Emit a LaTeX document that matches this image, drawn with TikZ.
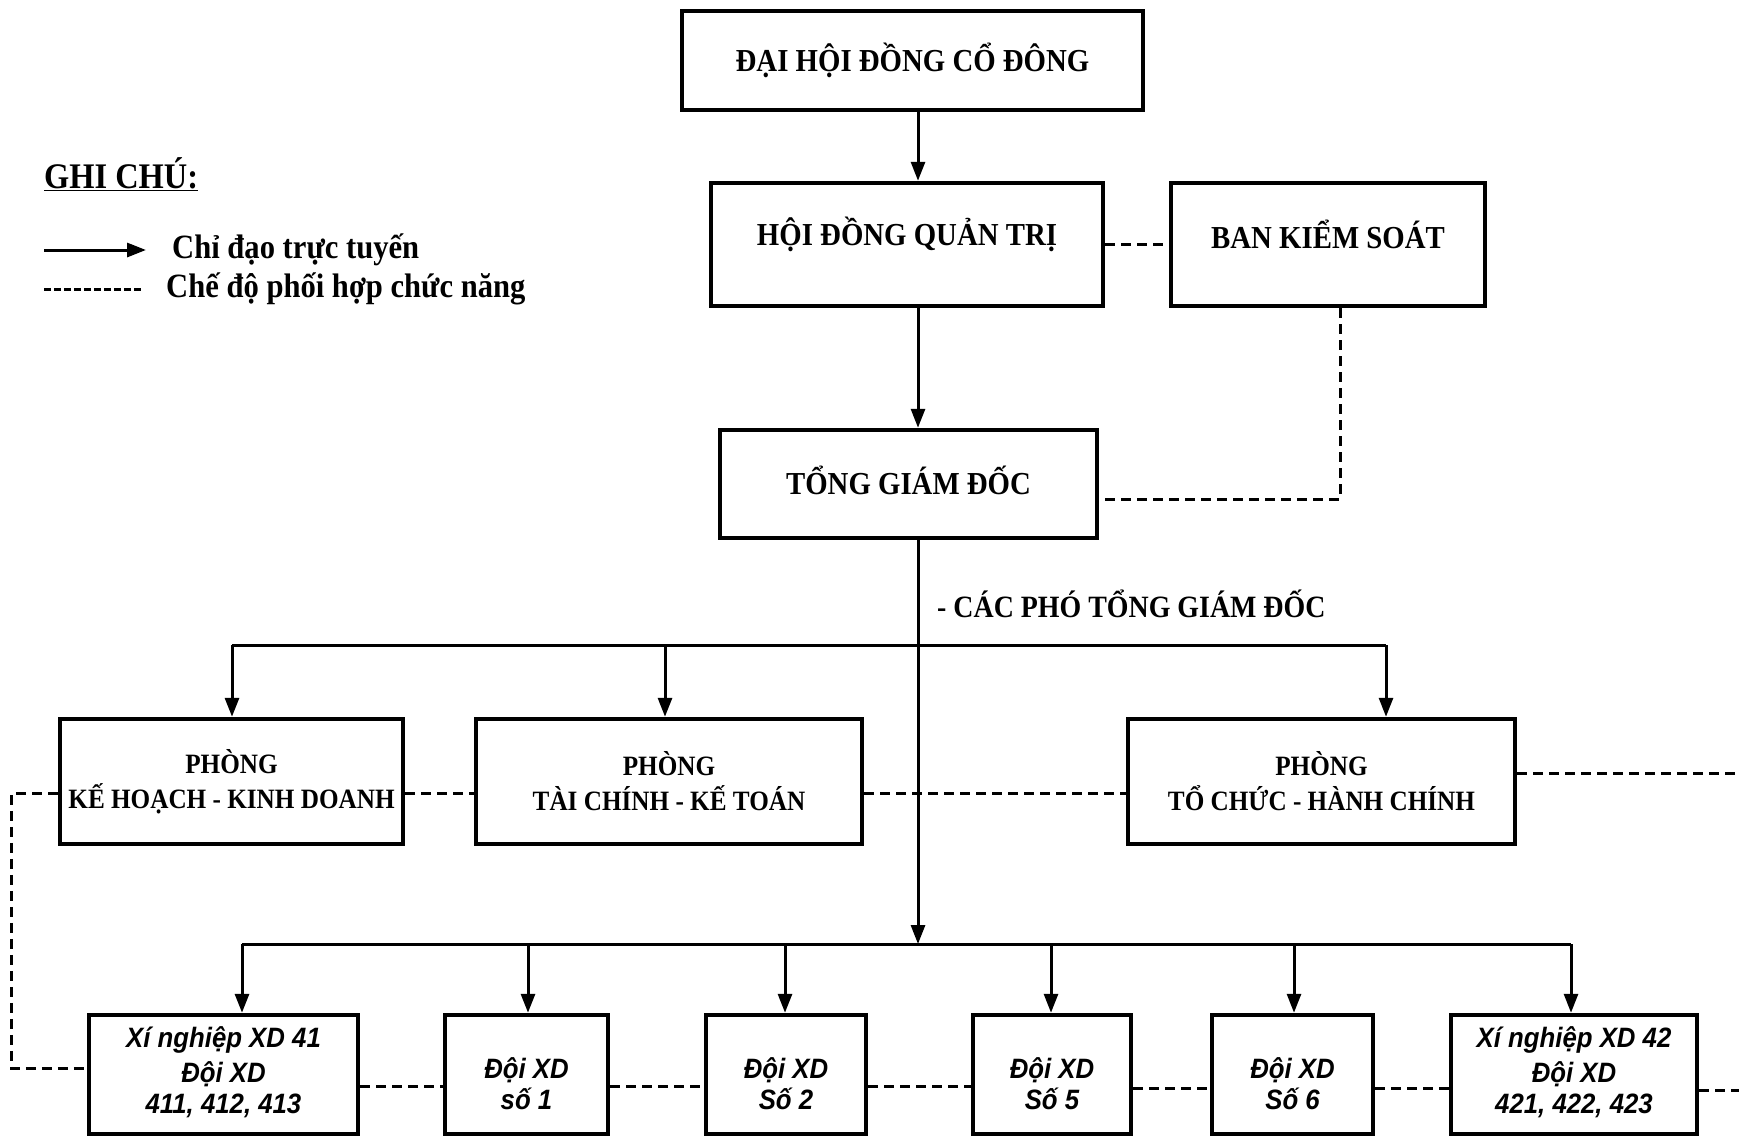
\documentclass[tikz,border=0pt]{standalone}
\usepackage{fontspec}
\setmainfont{Liberation Serif}[FakeStretch=0.9]
\newfontfamily\arialf{Liberation Sans}[FakeStretch=0.92]
\usetikzlibrary{arrows.meta}
\begin{document}
\begin{tikzpicture}[x=1pt,y=-1pt,
  box/.style={draw, line width=4.5pt, rectangle, inner sep=0pt, align=center},
  topfont/.style={font=\bfseries\fontsize{32}{38}\selectfont},
  midfont/.style={font=\bfseries\fontsize{28}{35}\selectfont},
  botfont/.style={font=\arialf\bfseries\itshape\fontsize{28}{31}\selectfont},
  solidarrow/.style={line width=3pt, -{Triangle[length=19pt,width=14pt]}},
  solidline/.style={line width=3pt},
  dashline/.style={line width=3pt, dash pattern=on 10pt off 6pt}]
\useasboundingbox (0,0) rectangle (1739,1138);
\fill[white] (0,0) rectangle (1739,1138);

% legend
\node[anchor=west, font=\bfseries\fontsize{36}{40}\selectfont, inner sep=0pt] (gc) at (44,174) {\underline{GHI CHÚ:}};
\coordinate (la1) at (44,250);
\coordinate (la2) at (146,250);
\draw[solidarrow] (la1) -- (la2);
\node[anchor=west, font=\bfseries\fontsize{34}{40}\selectfont, inner sep=0pt] (lt1) at (172,250) {Chỉ đạo trực tuyến};
\coordinate (ld1) at (44,289);
\coordinate (ld2) at (142,289);
\draw[dashline, dash pattern=on 7pt off 3pt] (ld1) -- (ld2);
\node[anchor=west, font=\bfseries\fontsize{34}{40}\selectfont, inner sep=0pt] (lt2) at (166,289) {Chế độ phối hợp chức năng};

% top boxes
\node[box, topfont, minimum width=461, minimum height=99] (dh) at (912.5,60.5) {ĐẠI HỘI ĐỒNG CỔ ĐÔNG};
\node[box, topfont, minimum width=392, minimum height=123] (hd) at (907,244.5) {\raisebox{10pt}[\height][\depth]{HỘI ĐỒNG QUẢN TRỊ}};
\node[box, topfont, minimum width=314, minimum height=123] (bks) at (1328,244.5) {\raisebox{10pt}[\height][\depth]{BAN KIỂM SOÁT}};
\node[box, topfont, minimum width=377, minimum height=108] (tgd) at (908.5,484) {\raisebox{4pt}[\height][\depth]{TỔNG GIÁM ĐỐC}};

\node[anchor=west, font=\bfseries\fontsize{31}{36}\selectfont, inner sep=0pt] (pho) at (937,604) {- CÁC PHÓ TỔNG GIÁM ĐỐC};

% department boxes
\node[box, midfont, minimum width=343, minimum height=125] (kh) at (231.5,781.5) {PHÒNG\\KẾ HOẠCH - KINH DOANH};
\node[box, midfont, minimum width=386, minimum height=125] (tk) at (669,781.5) {PHÒNG\\TÀI CHÍNH - KẾ TOÁN};
\node[box, midfont, minimum width=387, minimum height=125] (hc) at (1321.5,781.5) {PHÒNG\\TỔ CHỨC - HÀNH CHÍNH};

% bottom boxes
\node[box, botfont, minimum width=269, minimum height=119] (b1) at (223.5,1074.5) {\raisebox{4pt}[\height][\depth]{Xí nghiệp XD 41}\\Đội XD\\411, 412, 413};
\node[box, botfont, minimum width=163, minimum height=119] (b2) at (526.5,1074.5) {\raisebox{-9pt}[\height][\depth]{Đội XD}\\\raisebox{-9pt}[\height][\depth]{số 1}};
\node[box, botfont, minimum width=160, minimum height=119] (b3) at (786,1074.5) {\raisebox{-9pt}[\height][\depth]{Đội XD}\\\raisebox{-9pt}[\height][\depth]{Số 2}};
\node[box, botfont, minimum width=158, minimum height=119] (b4) at (1052,1074.5) {\raisebox{-9pt}[\height][\depth]{Đội XD}\\\raisebox{-9pt}[\height][\depth]{Số 5}};
\node[box, botfont, minimum width=161, minimum height=119] (b5) at (1292.5,1074.5) {\raisebox{-9pt}[\height][\depth]{Đội XD}\\\raisebox{-9pt}[\height][\depth]{Số 6}};
\node[box, botfont, minimum width=246, minimum height=119] (b6) at (1574,1074.5) {\raisebox{4pt}[\height][\depth]{Xí nghiệp XD 42}\\Đội XD\\421, 422, 423};

% trunk coordinates
\coordinate (tx) at (918,0);
\coordinate (h1) at (232,645);
\coordinate (h2) at (665,645);
\coordinate (h3) at (1386,645);
\coordinate (g0) at (918,944);
\coordinate (g1) at (242,944);
\coordinate (g2) at (528,944);
\coordinate (g3) at (785,944);
\coordinate (g4) at (1051,944);
\coordinate (g5) at (1294,944);
\coordinate (g6) at (1571,944);

% solid connectors
\draw[solidarrow] (dh.south -| tx) -- (hd.north -| tx);
\draw[solidarrow] (hd.south -| tx) -- (tgd.north -| tx);
\draw[solidarrow] (tgd.south -| tx) -- (g0);
\draw[solidline] (h1) -- (h3);
\draw[solidarrow] (h1) -- (h1 |- kh.north);
\draw[solidarrow] (h2) -- (h2 |- tk.north);
\draw[solidarrow] (h3) -- (h3 |- hc.north);
\draw[solidline] (g1) -- (g6);
\draw[solidarrow] (g1) -- (g1 |- b1.north);
\draw[solidarrow] (g2) -- (g2 |- b2.north);
\draw[solidarrow] (g3) -- (g3 |- b3.north);
\draw[solidarrow] (g4) -- (g4 |- b4.north);
\draw[solidarrow] (g5) -- (g5 |- b5.north);
\draw[solidarrow] (g6) -- (g6 |- b6.north);

% dashed connectors
\coordinate (bx) at (1340,0);
\coordinate (ty) at (0,499);
\draw[dashline] (hd.east) -- (bks.west);
\draw[dashline] (bks.south -| bx) -- (bx |- ty) -- (tgd.east |- ty);
\draw[dashline] ([yshift=-12pt]kh.east) -- ([yshift=-12pt]tk.west);
\draw[dashline] ([yshift=-12pt]tk.east) -- ([yshift=-12pt]hc.west);
\coordinate (r1) at (1739,773);
\draw[dashline] (hc.east |- r1) -- (r1);
\coordinate (lf) at (11,1068);
\draw[dashline] ([yshift=-12pt]kh.west) -| (lf) -- (b1.west |- lf);
\draw[dashline] ([yshift=-12pt]b1.east) -- ([yshift=-12pt]b2.west);
\draw[dashline] ([yshift=-12pt]b2.east) -- ([yshift=-12pt]b3.west);
\draw[dashline] ([yshift=-12pt]b3.east) -- ([yshift=-12pt]b4.west);
\draw[dashline] ([yshift=-14pt]b4.east) -- ([yshift=-14pt]b5.west);
\draw[dashline] ([yshift=-14pt]b5.east) -- ([yshift=-14pt]b6.west);
\coordinate (r2) at (1739,1090);
\draw[dashline] (b6.east |- r2) -- (r2);
\end{tikzpicture}
\end{document}
